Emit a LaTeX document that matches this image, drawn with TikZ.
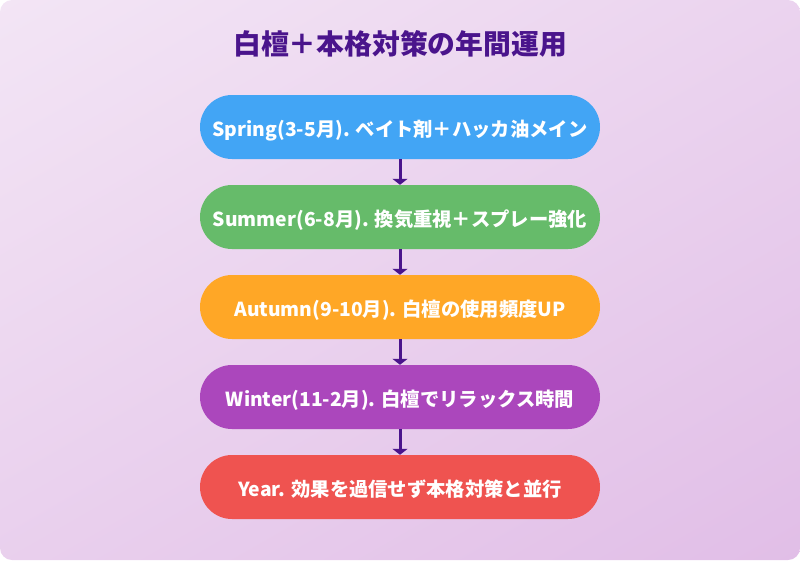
\documentclass[tikz,border=0pt]{standalone}
\usepackage{fontspec}
\setmainfont{Noto Sans CJK JP}
\usetikzlibrary{arrows.meta,shadings}
\definecolor{bgA}{HTML}{F3E5F5}
\definecolor{bgB}{HTML}{E1BEE7}
\definecolor{ttl}{HTML}{4A148C}
\definecolor{cBlue}{HTML}{42A5F5}
\definecolor{cGreen}{HTML}{66BB6A}
\definecolor{cOrange}{HTML}{FFA726}
\definecolor{cPurple}{HTML}{AB47BC}
\definecolor{cRed}{HTML}{EF5350}
\tikzset{
  stage/.style={draw=none, rounded corners=32pt, minimum width=400pt, minimum height=64pt,
    inner sep=0pt, text height=20pt, text depth=2pt, text=white, font=\fontsize{19.3}{22}\selectfont\bfseries},
  flow/.style={draw=ttl, line width=3pt, -{Triangle[length=6pt,width=15pt]}}
}
\begin{document}
\begin{tikzpicture}[x=1pt,y=-1pt]
\useasboundingbox (0,0) rectangle (800,560);
\shade[rounded corners=12pt, upper left=bgA, lower right=bgB, upper right=bgA!55!bgB, lower left=bgA!45!bgB] (0,0) rectangle (800,560);
\node[text=ttl, anchor=base, font=\fontsize{27.8}{32}\selectfont\bfseries] (title) at (400,54.6) {白檀＋本格対策の年間運用};
\node[stage, fill=cBlue] (s1) at (400,127) {Spring(3-5月). ベイト剤＋ハッカ油メイン};
\node[stage, fill=cGreen] (s2) at (400,217) {Summer(6-8月). 換気重視＋スプレー強化};
\node[stage, fill=cOrange] (s3) at (400,307) {Autumn(9-10月). 白檀の使用頻度UP};
\node[stage, fill=cPurple] (s4) at (400,397) {Winter(11-2月). 白檀でリラックス時間};
\node[stage, fill=cRed] (s5) at (400,487) {Year. 効果を過信せず本格対策と並行};
\draw[flow] (s1) -- (s2);
\draw[flow] (s2) -- (s3);
\draw[flow] (s3) -- (s4);
\draw[flow] (s4) -- (s5);
\end{tikzpicture}
\end{document}
